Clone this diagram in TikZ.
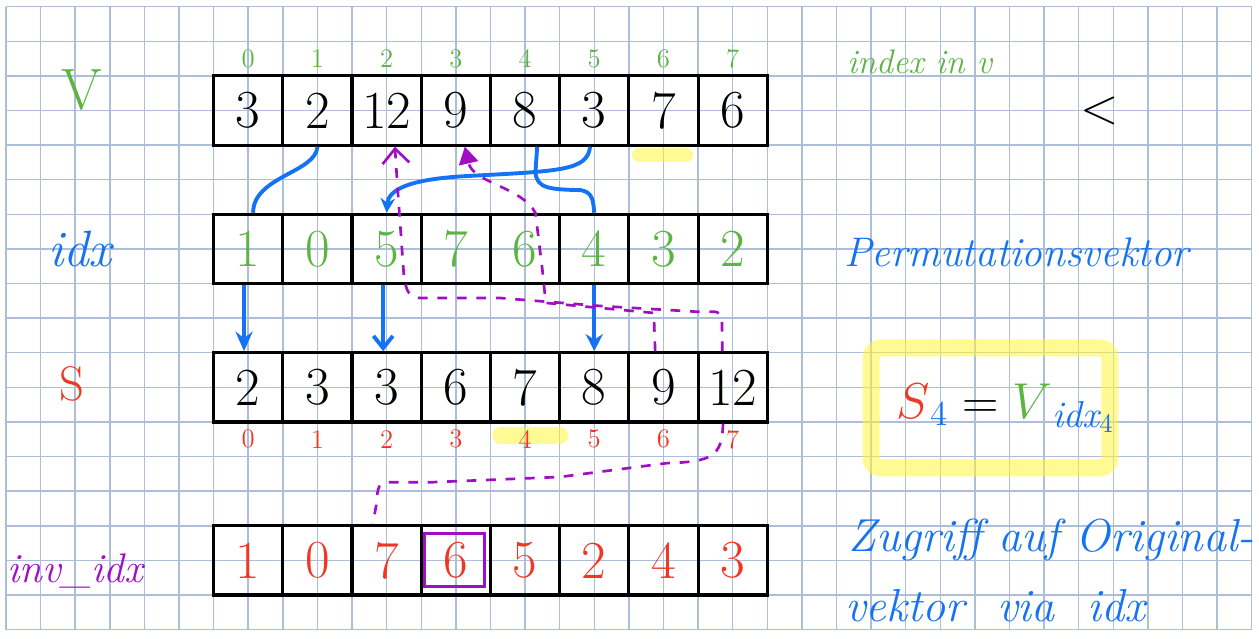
\documentclass[tikz,border=0pt]{standalone}
\usepackage{fontspec}
\usetikzlibrary{arrows.meta,calc}

\definecolor{penblue}{RGB}{20,115,245}
\definecolor{pengreen}{RGB}{92,180,66}
\definecolor{penred}{RGB}{240,55,35}
\definecolor{penpurple}{RGB}{160,15,195}
\definecolor{gridblue}{RGB}{172,190,216}
\definecolor{marker}{RGB}{255,245,60}

\tikzset{
    cell/.style={draw=black, line width=1.3pt, minimum width=1cm, minimum height=1cm,
        inner sep=0pt, font=\fontsize{22}{24}\selectfont},
    idxnum/.style={font=\fontsize{11}{12}\selectfont},
    rowlabel/.style={font=\fontsize{21}{24}\selectfont\itshape},
    note/.style={penblue, font=\fontsize{17}{20}\selectfont\itshape},
    link/.style={penblue, line width=1.6pt},
    back/.style={penpurple, line width=1.1pt, dash pattern=on 4pt off 4pt},
    highlight/.style={marker, opacity=0.55, line cap=round},
}

\begin{document}
\begin{tikzpicture}[x=0.5cm, y=-0.5cm]
    \useasboundingbox (-0.173,-0.194) rectangle (36.21,18.27);

    % Cuadricula
    \foreach \k in {0,...,36} \draw[gridblue, line width=0.6pt] (\k,0) -- (\k,18);
    \foreach \k in {0,...,18} \draw[gridblue, line width=0.6pt] (0,\k) -- (36,\k);

    % Marcas amarillas
    \draw[highlight, line width=6pt] (18.3,4.28) -- (19.65,4.28);
    \draw[highlight, line width=7pt] (14.3,12.38) -- (16.0,12.38);
    \draw[highlight, line width=7pt, line cap=butt, rounded corners=4pt] (25.0,9.86) rectangle (31.9,13.33);

    % Vectores
    \foreach \val [count=\i from 0] in {3,2,12,9,8,3,7,6}
        \node[cell] (v\i) at (7+2*\i,3) {\val};
    \foreach \val [count=\i from 0] in {1,0,5,7,6,4,3,2}
        \node[cell, text=pengreen] (idx\i) at (7+2*\i,7) {\val};
    \foreach \val [count=\i from 0] in {2,3,3,6,7,8,9,12}
        \node[cell] (s\i) at (7+2*\i,11) {\val};
    \foreach \val [count=\i from 0] in {1,0,7,6,5,2,4,3}
        \node[cell, text=penred] (inv\i) at (7+2*\i,16) {\val};

    % Indices
    \foreach \i in {0,...,7} {
        \node[idxnum, pengreen] (vi\i) at (7+2*\i,1.5) {\i};
        \node[idxnum, penred] (si\i) at (7+2*\i,12.5) {\i};
    }

    % Nombres
    \node[rowlabel, pengreen, font=\fontsize{24}{26}\selectfont] (lblv) at (2.2,2.4) {V};
    \node[rowlabel, penblue] (lblidx) at (2.14,7.0) {idx};
    \node[rowlabel, penred, font=\fontsize{20}{24}\selectfont] (lbls) at (1.9,10.9) {S};
    \node[rowlabel, penpurple, font=\fontsize{17}{20}\selectfont\itshape] (lblinv) at (2.0,16.3) {inv\_idx};

    % Caja en inv_idx
    \node[draw=penpurple, line width=1.2pt, minimum width=0.87cm, minimum height=0.77cm] (pick) at ($(inv3)+(-0.03,-0.02)$) {};

    % Flechas azules
    \draw[link] (v1.south) .. controls (8.95,4.8) and (7.15,4.9) .. ([xshift=0.07cm]idx0.north);
    \draw[link, -{Stealth[length=6pt,width=6pt]}] ([xshift=-0.06cm]v5.south)
        .. controls (16.8,4.75) and (16.0,4.75) .. (13.2,4.9)
        .. controls (11.6,5.0) and (11.05,5.3) .. (idx2.north);
    \draw[link] ($(v4.south)+(0.35,0)$) -- (15.3,4.8)
        .. controls (15.35,5.25) and (15.7,5.28) .. (16.6,5.3)
        .. controls (16.95,5.35) and (16.97,5.6) .. (idx5.north);

    \draw[link, -{Stealth[length=8pt,width=7pt]}] ([xshift=-0.06cm]idx0.south) -- ([xshift=-0.06cm]s0.north);
    \draw[link, -{Straight Barb[length=5pt,width=8pt]}] ([xshift=-0.05cm]idx2.south) -- ([xshift=-0.05cm]s2.north);
    \draw[link, -{Stealth[length=7pt,width=7pt]}] (idx5.south) -- (s5.north);

    % Caminos morados
    \draw[back, -{Straight Barb[length=6pt,width=11pt]}] ([xshift=-0.15cm]s7.north) -- (20.69,9.0)
        .. controls (20.6,8.8) .. (20.06,8.82) -- (17.2,8.65) -- (14.3,8.42) -- (11.96,8.42)
        .. controls (11.6,8.3) .. (11.5,7.8) -- (11.3,5.0) -- ([xshift=0.12cm]v2.south);
    \draw[back, -{Triangle[length=7pt,width=8pt]}] ([xshift=-0.12cm]s6.north) -- (18.72,8.85)
        -- (15.6,8.56) -- (15.5,7.6) -- (15.3,5.96)
        .. controls (14.9,5.2) and (13.5,5.1) .. ([xshift=0.13cm]v3.south);
    \draw[back] ([xshift=-0.14cm]s7.south) .. controls (20.7,13.0) and (20.4,13.15) .. (19.1,13.19)
        -- (16.0,13.59) -- (12.34,13.74) -- (11.1,13.74)
        .. controls (10.75,13.8) .. (10.7,14.4) -- ([xshift=-0.2cm]inv2.north);

    % Notas
    \node[pengreen, font=\fontsize{14}{16}\selectfont\itshape] (vnote) at (26.4,1.6) {index in v};
    \node[font=\fontsize{22}{24}\selectfont] (less) at (31.6,3.0) {$<$};
    \node[note] (permnote) at (29.2,7.1) {Permutationsvektor};
    \node[font=\fontsize{22}{24}\selectfont] (formula) at (28.9,11.6)
        {${\color{penred}S}_{\color{penblue}4} = {\color{pengreen}V}_{\color{penblue}\mathit{idx}_4}$};
    \node[note, font=\fontsize{19}{22}\selectfont\itshape, anchor=west] (accnote) at (24.1,15.4) {Zugriff auf Original-};
    \node[note, font=\fontsize{19}{22}\selectfont\itshape, anchor=west] (accnote2) at (24.0,17.3) {vektor\ \ via\ \ idx};
\end{tikzpicture}
\end{document}
